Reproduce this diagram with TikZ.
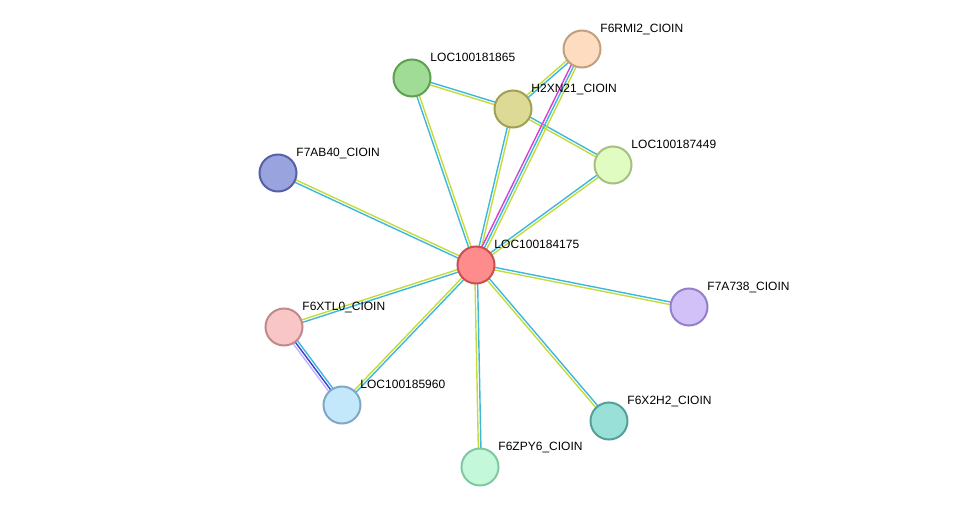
\documentclass[tikz,border=0pt]{standalone}
\usepackage{fontspec}
\setmainfont{Liberation Sans}
\usetikzlibrary{calc}

\definecolor{dbcyan}{HTML}{3CB8DC}
\definecolor{txtgreen}{HTML}{C4DC3A}
\definecolor{expmag}{HTML}{D83CD8}
\definecolor{coblue}{HTML}{3C3CD8}
\definecolor{homlilac}{HTML}{BCB8F8}

\tikzset{
  protein/.style={circle, line width=2pt, minimum size=37pt, inner sep=0pt},
  lbl/.style={anchor=base west, xshift=4.5pt, yshift=2.5pt, inner sep=0pt,
    font=\fontsize{12}{14}\selectfont},
  evidence/.style={line width=1.4pt}
}

% one coloured line of an edge, shifted sideways by #3
\newcommand{\evline}[4]{\draw[evidence, #4] ($(#1)!#3!90:(#2)$) -- ($(#2)!#3!-90:(#1)$);}
% the usual two-line edge
\newcommand{\twoedge}[2]{\evline{#1}{#2}{1.3pt}{dbcyan}\evline{#1}{#2}{-1.3pt}{txtgreen}}

\begin{document}
\begin{tikzpicture}[x=1pt, y=-1pt]
  \useasboundingbox (0,0) rectangle (975,513);

  % Nodes
  \coordinate (C) at (476,265);
  \coordinate (RMI) at (582,49);
  \coordinate (L865) at (412,78);
  \coordinate (H2X) at (513,109);
  \coordinate (L449) at (613,165);
  \coordinate (AB4) at (278,173);
  \coordinate (A73) at (689,307);
  \coordinate (XTL) at (284,327);
  \coordinate (L960) at (342,405);
  \coordinate (X2H) at (609,421);
  \coordinate (ZPY) at (480,467);

  % Edges
  \twoedge{C}{L865}
  \twoedge{C}{H2X}
  \twoedge{C}{L449}
  \twoedge{C}{AB4}
  \twoedge{C}{A73}
  \twoedge{C}{XTL}
  \twoedge{C}{L960}
  \twoedge{C}{X2H}
  \twoedge{C}{ZPY}
  \twoedge{L865}{H2X}
  \twoedge{RMI}{H2X}
  \twoedge{H2X}{L449}
  \evline{C}{RMI}{2.6pt}{expmag}
  \evline{C}{RMI}{0pt}{dbcyan}
  \evline{C}{RMI}{-2.6pt}{txtgreen}
  \evline{XTL}{L960}{2.6pt}{dbcyan}
  \evline{XTL}{L960}{0pt}{coblue}
  \evline{XTL}{L960}{-2.6pt}{homlilac}

  % Proteins
  \node[protein, fill={rgb,255:red,255;green,140;blue,140}, draw={rgb,255:red,200;green,80;blue,80},
    label={[lbl]45:LOC100184175}] (n1) at (C) {};
  \node[protein, fill={rgb,255:red,253;green,220;blue,192}, draw={rgb,255:red,192;green,160;blue,128},
    label={[lbl]45:F6RMI2\_CIOIN}] (n2) at (RMI) {};
  \node[protein, fill={rgb,255:red,160;green,220;blue,150}, draw={rgb,255:red,94;green,160;blue,80},
    label={[lbl]45:LOC100181865}] (n3) at (L865) {};
  \node[protein, fill={rgb,255:red,221;green,218;blue,150}, draw={rgb,255:red,160;green,160;blue,85},
    label={[lbl]45:H2XN21\_CIOIN}] (n4) at (H2X) {};
  \node[protein, fill={rgb,255:red,224;green,252;blue,192}, draw={rgb,255:red,165;green,192;blue,128},
    label={[lbl]45:LOC100187449}] (n5) at (L449) {};
  \node[protein, fill={rgb,255:red,153;green,163;blue,222}, draw={rgb,255:red,85;green,96;blue,166},
    label={[lbl]45:F7AB40\_CIOIN}] (n6) at (AB4) {};
  \node[protein, fill={rgb,255:red,210;green,192;blue,248}, draw={rgb,255:red,148;green,128;blue,200},
    label={[lbl]45:F7A738\_CIOIN}] (n7) at (A73) {};
  \node[protein, fill={rgb,255:red,248;green,198;blue,198}, draw={rgb,255:red,192;green,138;blue,138},
    label={[lbl]45:F6XTL0\_CIOIN}] (n8) at (XTL) {};
  \node[protein, fill={rgb,255:red,195;green,232;blue,252}, draw={rgb,255:red,128;green,168;blue,196},
    label={[lbl]45:LOC100185960}] (n9) at (L960) {};
  \node[protein, fill={rgb,255:red,152;green,224;blue,216}, draw={rgb,255:red,85;green,160;blue,152},
    label={[lbl]45:F6X2H2\_CIOIN}] (n10) at (X2H) {};
  \node[protein, fill={rgb,255:red,195;green,248;blue,218}, draw={rgb,255:red,128;green,200;blue,160},
    label={[lbl]45:F6ZPY6\_CIOIN}] (n11) at (ZPY) {};
\end{tikzpicture}
\end{document}
